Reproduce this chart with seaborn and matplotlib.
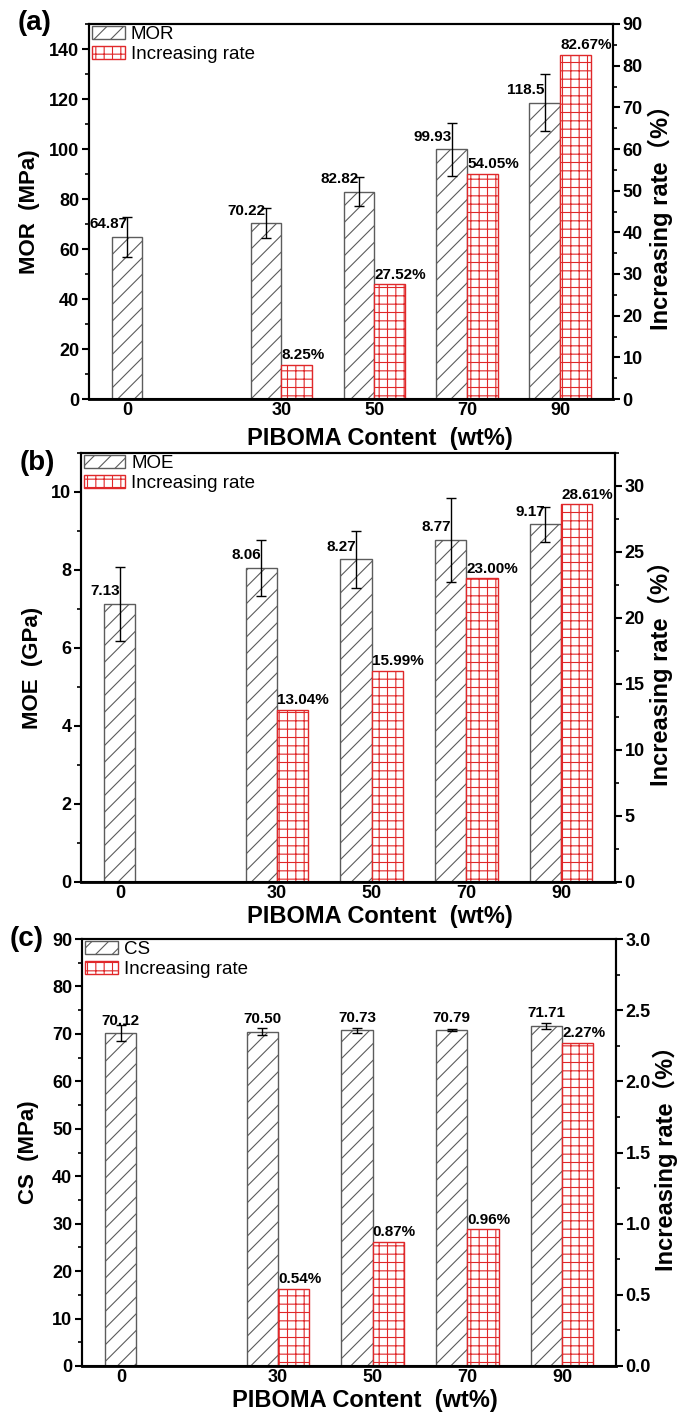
import numpy as np
import matplotlib
matplotlib.use("Agg")
import matplotlib.pyplot as plt
import seaborn as sns
from matplotlib.patches import Patch
from matplotlib.ticker import MultipleLocator, FormatStrFormatter

# PIBOMA content groups
content = ["0", "30", "50", "70", "90"]

# (a) modulus of rupture
mor = [64.87, 70.22, 82.82, 99.93, 118.5]
mor_sd = [8.0, 6.0, 5.8, 10.6, 11.4]
mor_rate = [0, 8.25, 27.52, 54.05, 82.67]

# (b) modulus of elasticity
moe = [7.13, 8.06, 8.27, 8.77, 9.17]
moe_sd = [0.94, 0.72, 0.73, 1.07, 0.45]
moe_rate = [0, 13.04, 15.99, 23.00, 28.61]

# (c) compressive strength
cs = [70.12, 70.50, 70.73, 70.79, 71.71]
cs_sd = [1.7, 0.7, 0.5, 0.2, 0.6]
cs_rate = [0, 0.54, 0.87, 0.96, 2.27]

sns.set_theme(style="ticks")
plt.rcParams["font.family"] = ["Liberation Sans", "Noto Sans CJK SC"]
plt.rcParams["font.weight"] = "bold"
plt.rcParams["hatch.linewidth"] = 0.8
plt.rcParams["axes.linewidth"] = 1.5
for key in ["text.color", "axes.labelcolor", "xtick.color", "ytick.color",
            "axes.edgecolor"]:
    plt.rcParams[key] = "black"

W, H = 680, 1412
fig = plt.figure(figsize=(W / 100, H / 100), dpi=100)

pos = np.array([0, 1.66, 2.66, 3.66, 4.66])
bw = 0.33
GRAY = "#5c5c5c"
RED = "#e0282a"


def px_rect(l, t, r, b):
    return [l / W, 1 - b / H, (r - l) / W, (b - t) / H]


panels = [
    dict(rect=px_rect(89, 24, 613, 399), tag="(a)", tagxy=(35, 23),
         name="MOR", ylabel="MOR  (MPa)", vals=mor, sd=mor_sd, rate=mor_rate,
         ylim=150, ymaj=20, ymin=10, lfmt="%d",
         rlim=90, rmaj=10, rmin=5, rtfmt="%d",
         vfmt="{:g}", vha="right",
         lx=-0.113, rx=1.090, xlx=0.555, xly=-0.104, hl=1.75),
    dict(rect=px_rect(81, 453, 615, 882), tag="(b)", tagxy=(37, 463),
         name="MOE", ylabel="MOE  (GPa)", vals=moe, sd=moe_sd, rate=moe_rate,
         ylim=11, ymaj=2, ymin=1, lfmt="%d",
         rlim=32.5, rmaj=5, rmin=2.5, rtfmt="%d",
         vfmt="{:.2f}", vha="right",
         lx=-0.090, rx=1.084, xlx=0.56, xly=-0.080, hl=2.2),
    dict(rect=px_rect(82, 939, 616, 1366), tag="(c)", tagxy=(27, 939),
         name="CS", ylabel="CS  (MPa)", vals=cs, sd=cs_sd, rate=cs_rate,
         ylim=90, ymaj=10, ymin=5, lfmt="%d",
         rlim=3.0, rmaj=0.5, rmin=0.25, rtfmt="%.1f",
         vfmt="{:.2f}", vha="center",
         lx=-0.101, rx=1.092, xlx=0.53, xly=-0.080, hl=1.75),
]


def style_yaxis(a, maj, mnr, fmt, side):
    a.yaxis.set_major_locator(MultipleLocator(maj))
    a.yaxis.set_minor_locator(MultipleLocator(mnr))
    a.yaxis.set_major_formatter(FormatStrFormatter(fmt))
    kw = dict(left=(side == "left"), right=(side == "right"),
              labelleft=(side == "left"), labelright=(side == "right"))
    a.tick_params(axis="y", which="major", direction="out", length=5,
                  width=1.5, labelsize=13, pad=2, **kw)
    a.tick_params(axis="y", which="minor", direction="out", length=3,
                  width=1.2, **kw)


for p in panels:
    ax = fig.add_axes(p["rect"])
    ax2 = ax.twinx()

    vals = np.asarray(p["vals"], float)
    sd = np.asarray(p["sd"], float)
    rate = np.asarray(p["rate"], float)
    paired = rate > 0
    gx = pos + np.where(paired, -bw / 2, 0.0)
    rxs = pos[paired] + bw / 2

    sns.barplot(x=gx, y=vals, native_scale=True, width=bw, orient="x",
                color="white", saturation=1, edgecolor=GRAY, linewidth=1.0,
                hatch="//", errorbar=None, ax=ax)
    ax.errorbar(gx, vals, yerr=sd, fmt="none", ecolor="black",
                elinewidth=1.0, capsize=3.5, capthick=1.0, zorder=3)

    sns.barplot(x=rxs, y=rate[paired], native_scale=True, width=bw, orient="x",
                color="white", saturation=1, edgecolor=RED, linewidth=1.0,
                hatch="++", errorbar=None, ax=ax2)

    for i in range(len(vals)):
        ax.annotate(p["vfmt"].format(vals[i]), xy=(gx[i], vals[i]),
                    xytext=(0, 4), textcoords="offset points",
                    ha=p["vha"], va="bottom", fontsize=11, fontweight="bold")
    for i in np.where(paired)[0]:
        ax2.annotate(f"{rate[i]:.2f}%", xy=(pos[i], rate[i]),
                     xytext=(0, 2), textcoords="offset points",
                     ha="left", va="bottom", fontsize=11, fontweight="bold")

    ax.set_ylim(0, p["ylim"])
    ax2.set_ylim(0, p["rlim"])
    style_yaxis(ax, p["ymaj"], p["ymin"], p["lfmt"], "left")
    style_yaxis(ax2, p["rmaj"], p["rmin"], p["rtfmt"], "right")

    ax.set_xlim(-0.41, 5.23)
    ax.set_xticks(pos)
    ax.set_xticklabels(content)
    ax.tick_params(axis="x", length=0, labelsize=13, pad=2)
    ax2.tick_params(axis="x", length=0)

    ax.spines["bottom"].set_linewidth(2.0)

    ax.set_xlabel("PIBOMA Content  (wt%)", fontsize=17, fontweight="bold")
    ax.xaxis.set_label_coords(p["xlx"], p["xly"])
    ax.xaxis.label.set_va("center")

    ax.set_ylabel(p["ylabel"], fontsize=16, fontweight="bold")
    ax.yaxis.set_label_coords(p["lx"], 0.5)
    ax.yaxis.label.set_va("center")
    ax.yaxis.label.set_ha("center")

    ax2.set_ylabel("Increasing rate（%）", fontsize=17, fontweight="bold",
                   rotation=90)
    ax2.yaxis.set_label_coords(p["rx"], 0.5)
    ax2.yaxis.label.set_va("center")
    ax2.yaxis.label.set_ha("center")

    handles = [
        Patch(facecolor="white", edgecolor=GRAY, hatch="//", linewidth=1.0,
              label=p["name"]),
        Patch(facecolor="white", edgecolor=RED, hatch="++", linewidth=1.0,
              label="Increasing rate"),
    ]
    ax2.legend(handles=handles, loc="upper left", bbox_to_anchor=(0.006, 0.995),
               frameon=False, prop=dict(size=13.5, weight="normal"),
               handlelength=p["hl"], handleheight=0.7, handletextpad=0.3,
               labelspacing=0.15, borderpad=0, borderaxespad=0)

    fig.text(p["tagxy"][0] / W, 1 - p["tagxy"][1] / H, p["tag"],
             fontsize=20, fontweight="bold", ha="center", va="center")

fig.savefig("out.png", dpi=100)
